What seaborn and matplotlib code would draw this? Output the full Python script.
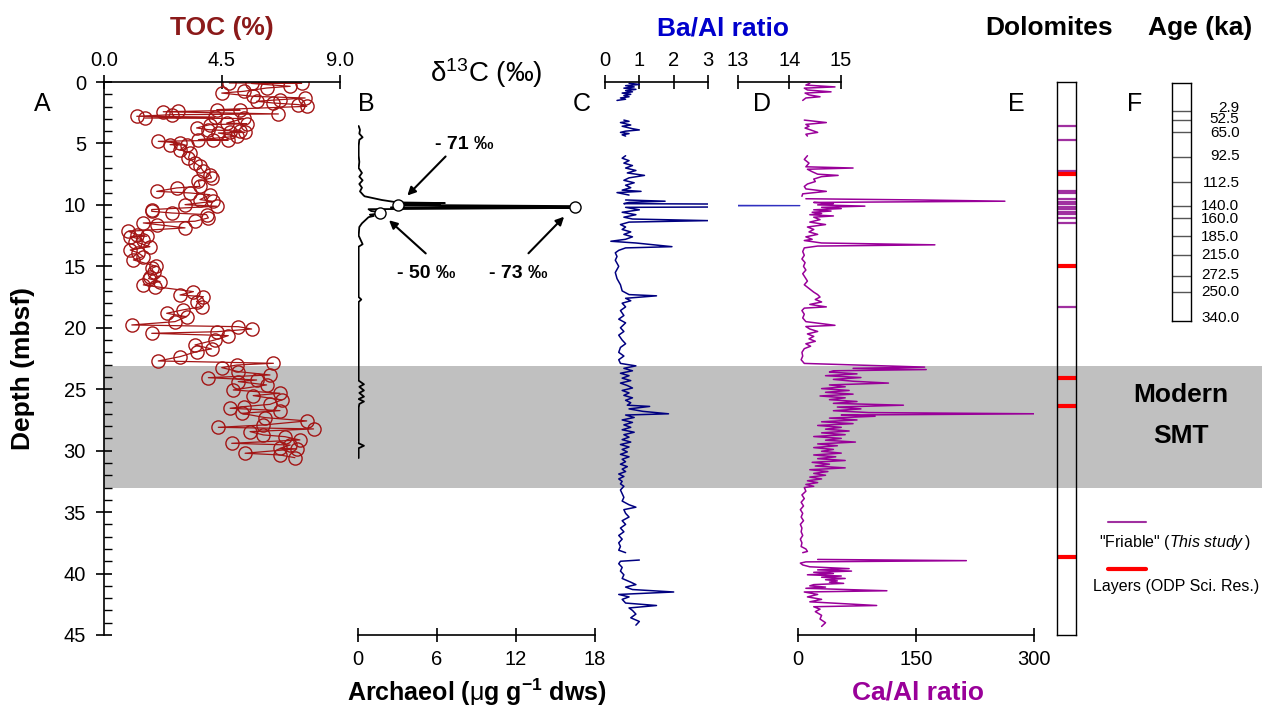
import numpy as np
import matplotlib
matplotlib.use('Agg')
import matplotlib.pyplot as plt
import pandas as pd
import seaborn as sns
from matplotlib.lines import Line2D

# ---------------- data ----------------
toc_depth = [0.08, 0.10, 0.12, 0.35, 0.49, 0.76, 0.90, 1.17, 1.30, 1.44, 1.57, 1.71, 1.84, 1.98,
             2.25, 2.30, 2.39, 2.42, 2.60, 2.66, 2.79, 2.85, 2.93, 2.97, 3.34, 3.40, 3.47, 3.74,
             3.88, 4.01, 4.05, 4.10, 4.15, 4.42, 4.69, 4.72, 4.75, 4.83, 4.96, 5.10, 5.14, 5.51,
             5.78, 6.18, 6.59, 6.86, 7.27, 7.54, 7.81, 8.08, 8.49, 8.62, 8.90, 9.03, 9.17, 9.57,
             9.71, 9.98, 10.11, 10.38, 10.52, 10.66, 10.79, 11.06, 11.33, 11.47, 11.60, 11.87,
             12.15, 12.42, 12.55, 12.58, 12.86, 13.00, 13.40, 13.67, 13.90, 14.20, 14.48, 15.00,
             15.16, 15.50, 15.84, 16.00, 16.24, 16.51, 16.65, 17.06, 17.33, 17.47, 17.87, 18.28,
             18.55, 18.82, 19.10, 19.50, 19.77, 19.91, 20.10, 20.32, 20.45, 20.64, 20.99, 21.40,
             21.72, 21.94, 22.35, 22.70, 22.89, 23.03, 23.24, 23.57, 23.84, 24.06, 24.25, 24.38,
             24.65, 25.06, 25.33, 25.52, 25.87, 26.23, 26.42, 26.55, 26.74, 26.96, 27.31, 27.58,
             27.91, 28.10, 28.23, 28.45, 28.72, 28.86, 29.13, 29.40, 29.54, 29.81, 29.85, 30.21,
             30.35, 30.57]
toc_pct = [4.78, 7.54, 5.63, 7.10, 6.20, 5.32, 4.49, 5.70, 7.67, 6.71, 5.82, 6.46, 7.41, 7.73,
           4.30, 5.19, 2.83, 2.26, 6.65, 2.58, 1.25, 4.23, 1.56, 5.32, 4.68, 5.44, 4.04, 3.53,
           3.98, 5.19, 4.81, 5.38, 4.36, 5.06, 3.60, 4.74, 4.17, 2.07, 2.90, 2.52, 3.15, 2.90,
           3.28, 3.22, 3.47, 3.66, 3.79, 4.04, 4.10, 3.60, 3.66, 2.77, 2.01, 3.28, 4.04, 3.66,
           4.17, 3.09, 4.30, 1.82, 1.82, 2.58, 3.91, 3.98, 3.47, 1.50, 2.01, 3.09,
           0.93, 1.25, 1.63, 1.00, 1.50, 1.20, 1.75, 1.00, 1.30, 1.50, 1.12, 2.00,
           1.82, 1.90, 1.75, 1.70, 2.14, 1.50, 1.95, 3.41, 2.90, 3.79, 3.53, 3.72,
           3.00, 2.39, 3.15, 2.71, 1.06, 5.12, 5.63, 4.30, 1.82, 4.74, 4.23, 3.47,
           4.10, 3.53, 2.90, 2.07, 6.46, 5.06, 4.49, 5.12, 6.33, 3.98, 5.82, 5.12,
           6.20, 4.93, 6.71, 5.69, 6.78, 6.33, 5.32, 4.81, 6.71, 5.25, 6.14, 7.73,
           6.08, 4.36, 7.99, 5.57, 6.08, 6.90, 7.47, 4.87, 7.10, 6.71, 7.35, 5.38,
           6.71, 7.28]

arch_depth = [3.58, 3.9, 4.2, 4.5, 4.7, 5.2, 6.0, 6.5, 7.0, 7.4, 7.7, 8.0, 8.3, 8.6, 8.9, 9.2,
              9.3, 9.6, 9.8, 9.85, 9.9, 9.95, 10.0, 10.1, 10.2, 10.25, 10.35, 10.5, 10.6, 10.7,
              10.8, 10.9, 11.0, 11.2, 11.5, 11.8, 12.5, 13.2, 13.4, 15.0, 17.5, 17.7, 17.9, 20.0,
              23.0, 24.3, 24.6, 24.8, 25.1, 25.3, 25.6, 25.8, 26.0, 26.2, 26.5, 29.4, 29.6, 29.8,
              30.6]
arch_val = [0.05, 0.15, 0.1, 0.35, 0.1, 0.05, 0.05, 0.1, 0.05, 0.3, 0.1, 0.35, 0.1, 0.3, 0.15, 0.4,
            0.5, 1.8, 3.0, 6.6, 3.2, 6.2, 3.0, 16.5, 2.5, 16.3, 0.8, 1.0, 1.8, 1.6,
            0.9, 1.2, 0.8, 0.6, 0.3, 0.1, 0.05, 0.35, 0.05, 0.05, 0.05, 0.25, 0.05, 0.05,
            0.05, 0.05, 0.45, 0.1, 0.45, 0.1, 0.45, 0.05, 0.45, 0.1, 0.05, 0.05, 0.45, 0.05,
            0.05]
c13_arch = [3.0, 1.7, 16.5]
c13_depth = [10.0, 10.7, 10.15]
c13_labels = ['- 71 ‰', '- 50 ‰', '- 73 ‰']

nan = np.nan
baal_depth = [0.1, 0.2, 0.3, 0.4, 0.5, 0.6, 0.7, 0.8, 0.9, 1.0, 1.1, 1.2, 1.3, 1.4, 1.5, nan,
              3.1, 3.2, 3.3, 3.4, 3.5, 3.6, 3.7, 3.8, 3.9, 4.0, 4.1, 4.2, 4.3, 4.4, nan,
              6.0, 6.2, 6.4, 6.6, 6.8, 7.0, 7.2, 7.4, 7.6, 7.8, 8.0, 8.2, 8.4, 8.6, 8.8, 8.9, 9.0, 9.2, nan,
              9.6, 9.7, 9.8, 9.9, 10.06, 10.2, 10.4, 10.6, 10.8, 11.0, 11.15, 11.28, 11.4, 11.6, 11.8,
              12.0, 12.2, 12.4, 12.6, 12.8, 12.96, 13.1, 13.4, 13.5, 13.7, 13.9, 14.2, 14.5, 15.0,
              15.5, 16.0, 16.5, 17.0, 17.3, 17.4, 17.6, 17.8, 18.0, 18.3, 18.6, 19.0, 19.3, 19.6,
              20.0, 20.3, 20.6, 21.0, 21.3, 21.6, 22.0, 22.3, 22.6, 22.9, 23.1, 23.3, 23.5, 23.7,
              23.9, 24.1, 24.3, 24.5, 24.7, 24.9, 25.1, 25.3, 25.5, 25.7, 25.9, 26.1, 26.3, 26.4,
              26.6, 26.8, 27.0, 27.1, 27.3, 27.5, 27.7, 27.9, 28.1, 28.3, 28.5, 28.7, 28.9, 29.1,
              29.3, 29.5, 29.7, 29.9, 30.1, 30.3, 30.5, 30.7, 30.9, 31.1, 31.3, 31.5, 31.7, 31.9,
              32.1, 32.3, 32.5, 32.7, 32.9, 33.2, 33.5, 33.8, 34.1, 34.4, 34.6, 34.8, 35.1, 35.4,
              35.7, 36.0, 36.3, 36.6, 36.9, 37.2, 37.5, 37.8, 38.1, 38.3, nan,
              38.9, 39.0, 39.2, 39.5, 39.8, 40.1, 40.4, 40.7, 40.9, 41.1, 41.3, 41.5, 41.7, 41.9,
              42.1, 42.4, 42.6, 42.8, 43.0, 43.3, 43.6, 43.9, 44.2]
baal_val = [0.7, 1.0, 0.6, 0.85, 0.55, 0.9, 0.6, 0.8, 0.5, 0.75, 0.55, 0.7, 0.45, 0.6, 0.35, nan,
            0.55, 0.7, 0.45, 0.6, 0.75, 0.5, 0.65, 0.8, 1.0, 0.6, 0.45, 0.7, 0.5, 0.6, nan,
            0.6, 0.5, 0.7, 0.55, 0.8, 0.6, 0.9, 0.65, 1.15, 0.7, 0.55, 0.85, 0.6, 0.75, 0.5, 1.05, 0.35, 0.7, nan,
            0.6, 1.75, 0.7, 0.55, 14.2, 0.6, 1.0, 0.5, 0.9, 0.55, 0.8, 3.0, 0.7, 0.45, 0.6,
            0.5, 0.75, 0.55, 0.8, 0.6, 0.17, 0.9, 1.95, 0.6, 0.4, 0.3, 0.35, 0.3, 0.4,
            0.3, 0.35, 0.45, 0.5, 0.7, 1.5, 0.6, 0.75, 0.5, 0.6, 0.45, 0.55, 0.4, 0.6,
            0.45, 0.55, 0.4, 0.5, 0.6, 0.45, 0.4, 0.55, 0.4, 0.45, 0.9, 0.55, 0.8, 0.45,
            0.7, 0.5, 0.75, 0.45, 0.65, 0.8, 0.5, 0.7, 0.55, 0.8, 0.6, 0.75, 0.65, 1.3,
            0.7, 1.1, 1.85, 0.6, 0.85, 0.5, 0.8, 0.55, 0.75, 0.5, 0.85, 0.55, 0.7, 0.5,
            0.75, 0.45, 0.7, 0.5, 0.65, 0.45, 0.7, 0.5, 0.6, 0.45, 0.65, 0.5, 0.6, 0.4,
            0.55, 0.4, 0.5, 0.45, 0.55, 0.45, 0.5, 0.55, 0.5, 0.7, 0.9, 0.55, 0.6, 0.7,
            0.5, 0.6, 0.45, 0.55, 0.4, 0.5, 0.4, 0.45, 0.4, 0.6, nan,
            1.0, 0.45, 0.4, 0.5, 0.45, 0.55, 0.5, 0.75, 0.9, 0.6, 0.8, 2.0, 0.4, 0.7,
            0.5, 0.6, 1.5, 0.7, 0.8, 0.9, 0.75, 1.0, 0.9]

caal_depth = [0.1, 0.25, 0.4, 0.5, 0.65, 0.8, 0.9, 1.05, 1.2, 1.3, 1.5, nan,
              3.1, 3.3, 3.45, 3.6, 3.75, 3.9, 4.1, 4.25, 4.4, nan,
              6.0, 6.3, 6.6, 6.9, 7.0, 7.1, 7.3, 7.5, 7.6, 7.7, 7.9, 8.1, 8.3, 8.5, 8.7, 8.9, 9.1, 9.3, nan,
              9.5, 9.6, 9.7, 9.8, 9.9, 10.0, 10.1, 10.2, 10.3, 10.4, 10.5, 10.6, 10.7, 10.8, 10.9,
              11.0, 11.2, 11.4, 11.6, 11.8, 12.0, 12.2, 12.4, 12.6, 12.8, 12.9, 13.1, 13.25, 13.35,
              13.5, 13.8, 14.1, 14.4, 14.7, 15.0, 15.3, 15.6, 15.9, 16.2, 16.5, 16.8, 17.1, 17.3,
              17.5, 17.7, 17.9, 18.1, 18.3, 18.4, 18.6, 18.9, 19.2, 19.5, 19.8, 19.9, 20.1, 20.3,
              20.5, 20.7, 20.9, 21.1, 21.3, 21.5, 21.7, 22.0, 22.3, 22.6, 22.9, 23.0, 23.1, 23.2,
              23.3, 23.4, 23.5, 23.6, 23.75, 23.9, 24.05, 24.2, 24.35, 24.5, 24.65, 24.8, 24.95,
              25.1, 25.25, 25.4, 25.55, 25.7, 25.85, 26.0, 26.15, 26.3, 26.45, 26.6, 26.75, 26.9,
              27.0, 27.1, 27.2, 27.35, 27.5, 27.65, 27.8, 27.95, 28.1, 28.25, 28.4, 28.55, 28.7,
              28.85, 29.0, 29.15, 29.3, 29.45, 29.6, 29.75, 29.9, 30.05, 30.2, 30.35, 30.5, 30.65,
              30.8, 30.95, 31.1, 31.25, 31.4, 31.55, 31.7, 31.85, 32.0, 32.15, 32.3, 32.45, 32.6,
              32.75, 32.9, 33.0, 33.3, 33.6, 33.9, 34.2, 34.5, 34.8, 35.1, 35.4, 35.7, 36.0, 36.3,
              36.6, 36.9, 37.2, 37.5, 37.8, 38.0, 38.2, 38.3, nan,
              38.85, 38.95, 39.05, 39.15, 39.3, 39.45, 39.6, 39.7, 39.8, 39.9, 40.0, 40.1, 40.2,
              40.3, 40.4, 40.5, 40.6, 40.7, 40.8, 40.9, 41.0, 41.1, 41.2, 41.4, 41.5, 41.7, 41.9,
              42.1, 42.3, 42.6, 42.7, 42.9, 43.1, 43.4, 43.7, 44.0, 44.3]
caal_val = [15, 10, 47, 8, 12, 42, 9, 14, 28, 10, 6, nan,
            8, 36, 10, 14, 9, 16, 25, 10, 12, nan,
            12, 8, 14, 10, 70, 12, 18, 25, 51, 30, 20, 22, 12, 8, 10, 36, 6, 5, nan,
            10, 155, 263, 20, 45, 25, 85, 30, 55, 20, 42, 18, 30, 15, 45,
            20, 28, 15, 35, 12, 20, 14, 25, 10, 18, 8, 30, 174, 25,
            8, 6, 8, 5, 9, 7, 10, 6, 9, 12, 8, 14, 20, 25,
            28, 22, 30, 15, 36, 8, 5, 8, 6, 10, 47, 10, 15, 25,
            12, 20, 14, 22, 10, 16, 8, 5, 6, 4, 8, 60, 110, 161,
            70, 163, 45, 40, 75, 35, 80, 45, 70, 115, 40, 60, 30,
            65, 35, 70, 28, 60, 40, 75, 45, 134, 50, 80, 45, 90,
            306, 55, 98, 40, 75, 30, 70, 25, 55, 35, 65, 30, 60,
            20, 55, 35, 73, 25, 50, 20, 45, 30, 55, 20, 48, 25,
            60, 18, 40, 22, 60, 15, 38, 20, 35, 15, 30, 12, 25,
            10, 20, 8, 10, 5, 8, 4, 7, 3, 6, 4, 7, 3, 5,
            4, 6, 3, 5, 4, 10, 12, 6, nan,
            25, 214, 10, 3, 6, 15, 65, 25, 68, 20, 45, 12, 55,
            30, 60, 35, 50, 40, 58, 20, 15, 35, 10, 113, 8, 25, 12,
            30, 15, 100, 20, 28, 22, 30, 28, 35, 30]

friable_depth = [3.58, 4.72, 7.21, 8.84, 9.0, 9.55, 9.74, 9.93, 10.14, 10.36, 10.55, 10.74,
                 11.09, 11.5, 18.28]
layer_depth = [7.49, 14.94, 24.06, 26.34, 38.62]

age_line_depth = [2.28, 3.04, 4.04, 6.02, 8.06, 10.06, 11.04, 12.53, 14.02, 15.79, 17.06]
age_label_depth = [2.01, 2.95, 4.12, 5.94, 8.19, 10.09, 11.09, 12.59, 14.08, 15.7, 17.06, 19.23]
age_labels = ['2.9', '52.5', '65.0', '92.5', '112.5', '140.0', '160.0', '185.0', '215.0',
              '272.5', '250.0', '340.0']
age_bottom = 19.45

smt_top, smt_bottom = 23.1, 33.0

# ---------------- style ----------------
sns.set_theme(style='white')
plt.rcParams['font.family'] = ['Liberation Sans', 'DejaVu Sans']
plt.rcParams['mathtext.fontset'] = 'custom'
plt.rcParams['mathtext.rm'] = 'Liberation Sans'
plt.rcParams['mathtext.it'] = 'Liberation Sans:italic'
plt.rcParams['mathtext.bf'] = 'Liberation Sans:bold'
for key in ['text.color', 'axes.labelcolor', 'xtick.color', 'ytick.color', 'axes.edgecolor']:
    plt.rcParams[key] = 'black'

toc_color = '#A31515'
toc_title = '#8B1A1A'
ba_color = '#000080'
ba_title = '#0000CC'
ca_color = '#990099'
friable_color = '#A030A0'
layer_color = '#FF0000'

W, H = 1263, 711
fig = plt.figure(figsize=(W / 100, H / 100), dpi=100)
fig.patch.set_facecolor('white')


def px_axes(x0, x1, y0=82, y1=635):
    ax = fig.add_axes([x0 / W, 1 - y1 / H, (x1 - x0) / W, (y1 - y0) / H])
    ax.patch.set_alpha(0)
    for s in ax.spines.values():
        s.set_visible(False)
        s.set_linewidth(1.2)
        s.set_color('black')
    return ax


def ftext(x, y, s, **kw):
    kw.setdefault('ha', 'center')
    kw.setdefault('va', 'center')
    kw.setdefault('color', 'black')
    fig.text(x / W, 1 - y / H, s, **kw)


def seg_frame(depth, vals):
    d = np.asarray(depth, float)
    v = np.asarray(vals, float)
    df = pd.DataFrame({'depth': d, 'val': v, 'seg': np.cumsum(np.isnan(d))})
    return df.dropna()


tick_kw = dict(direction='inout', length=10, width=1.2, labelsize=14.5, colors='black')

# gray SMT band
ax_bg = px_axes(104, 1262)
ax_bg.set_ylim(45, 0)
ax_bg.axhspan(smt_top, smt_bottom, color='#C0C0C0', lw=0)
ax_bg.set_xticks([])
ax_bg.set_yticks([])

# ---- A: TOC ----
ax_a = px_axes(104, 340)
sns.lineplot(x=toc_pct, y=toc_depth, sort=False, estimator=None, ax=ax_a, color=toc_color,
             lw=0.9, marker='o', ms=9.5, mfc='none', mec=toc_color, mew=1.0)
ax_a.set_xlim(0, 9)
ax_a.set_ylim(45, 0)
ax_a.spines['left'].set_visible(True)
ax_a.spines['top'].set_visible(True)
ax_a.xaxis.tick_top()
ax_a.set_xticks([0, 4.5, 9])
ax_a.set_xticklabels(['0.0', '4.5', '9.0'])
ax_a.set_yticks(range(0, 46, 5))
ax_a.set_yticks(range(0, 46, 1), minor=True)
ax_a.tick_params(axis='x', which='major', pad=4, **tick_kw)
ax_a.tick_params(axis='y', which='major', left=True, pad=7, length=12, direction='inout',
                 width=1.2, labelsize=14.5, colors='black')
ax_a.tick_params(axis='y', which='minor', left=True, length=6, direction='in', width=1.0,
                 colors='black')
ax_a.set_xlabel('')
ax_a.set_ylabel('')

# ---- B: archaeol ----
ax_b = px_axes(358, 595)
sns.lineplot(x=arch_val, y=arch_depth, sort=False, estimator=None, ax=ax_b, color='black', lw=1.3)
ax_b.plot(c13_arch, c13_depth, 'o', ms=8, mfc='white', mec='black', mew=1.0, zorder=5)
ax_b.set_xlim(0, 18)
ax_b.set_ylim(45, 0)
ax_b.spines['bottom'].set_visible(True)
ax_b.set_xticks([0, 6, 12, 18])
ax_b.set_yticks([])
ax_b.tick_params(axis='x', bottom=True, pad=6, **tick_kw)
text_pos = [(8.1, 5.1), (5.2, 15.6), (12.2, 15.6)]
arrow_tail = [(6.8, 5.9), (5.3, 14.1), (12.8, 14.1)]
arrow_tip = [(3.6, 9.4), (2.2, 11.1), (15.8, 10.8)]
for lab, tp, tl, tip in zip(c13_labels, text_pos, arrow_tail, arrow_tip):
    ax_b.text(tp[0], tp[1], lab, ha='center', va='center', fontsize=14, fontweight='bold',
              color='black')
    ax_b.annotate('', xy=tip, xytext=tl,
                  arrowprops=dict(arrowstyle='-|>', color='black', lw=1.5, mutation_scale=12))
ax_b.set_xlabel('')
ax_b.set_ylabel('')

# ---- C: Ba/Al ----
baal = seg_frame(baal_depth, baal_val)
ax_c = px_axes(605, 708)
sns.lineplot(data=baal, x='val', y='depth', units='seg', estimator=None, sort=False,
             ax=ax_c, color=ba_color, lw=1.1)
ax_c.set_xlim(0, 3)
ax_c.set_ylim(45, 0)
ax_c.spines['top'].set_visible(True)
ax_c.xaxis.tick_top()
ax_c.set_xticks([0, 1, 2, 3])
ax_c.set_yticks([])
ax_c.tick_params(axis='x', pad=4, **tick_kw)
ax_c.set_xlabel('')
ax_c.set_ylabel('')

# broken Ba/Al scale (13-15)
ax_ct = px_axes(738, 841)
sns.lineplot(data=baal, x='val', y='depth', units='seg', estimator=None, sort=False,
             ax=ax_ct, color='#3030C0', lw=1.0)
ax_ct.set_xlim(13, 15)
ax_ct.set_ylim(45, 0)
ax_ct.spines['top'].set_visible(True)
ax_ct.xaxis.tick_top()
ax_ct.set_xticks([13, 14, 15])
ax_ct.set_yticks([])
ax_ct.tick_params(axis='x', pad=4, **tick_kw)
ax_ct.set_xlabel('')
ax_ct.set_ylabel('')

# ---- D: Ca/Al ----
caal = seg_frame(caal_depth, caal_val)
ax_d = px_axes(798, 1034)
sns.lineplot(data=caal, x='val', y='depth', units='seg', estimator=None, sort=False,
             ax=ax_d, color=ca_color, lw=1.1)
ax_d.set_xlim(0, 300)
ax_d.set_ylim(45, 0)
ax_d.spines['bottom'].set_visible(True)
ax_d.set_xticks([0, 150, 300])
ax_d.set_yticks([])
ax_d.tick_params(axis='x', bottom=True, pad=6, **tick_kw)
ax_d.set_xlabel('')
ax_d.set_ylabel('')

# ---- E: dolomites column ----
ax_e = px_axes(1057, 1076)
for s in ax_e.spines.values():
    s.set_visible(True)
    s.set_linewidth(1.0)
ax_e.set_xlim(0, 1)
ax_e.set_ylim(45, 0)
ax_e.hlines(friable_depth, 0, 1, color=friable_color, lw=1.6)
ax_e.hlines(layer_depth, 0, 1, color=layer_color, lw=3)
ax_e.set_xticks([])
ax_e.set_yticks([])

# ---- F: age column ----
ax_f = px_axes(1172, 1191, 83, 321)
for s in ax_f.spines.values():
    s.set_visible(True)
    s.set_linewidth(1.0)
ax_f.set_xlim(0, 1)
ax_f.set_ylim(age_bottom, 0)
ax_f.hlines(age_line_depth, 0, 1, color='#555555', lw=1.0)
ax_f.set_xticks([])
ax_f.set_yticks([])
for d, lab in zip(age_label_depth, age_labels):
    ax_f.text(3.55, d, lab, transform=ax_f.get_yaxis_transform(), ha='right', va='center',
              fontsize=11, color='black')

# ---- text ----
ftext(222, 28, 'TOC (%)', color=toc_title, fontsize=19, fontweight='bold')
ftext(723, 28, 'Ba/Al ratio', color=ba_title, fontsize=19, fontweight='bold')
ftext(1049, 28, 'Dolomites', fontsize=19, fontweight='bold')
ftext(1200, 28, 'Age (ka)', fontsize=19, fontweight='bold')
ftext(486, 73, r'$\mathrm{\delta}^{13}$C (‰)', fontsize=20)
ftext(477, 692, r'Archaeol ($\mathrm{\mu}$g g$^{\mathbf{-1}}$ dws)', fontsize=18, fontweight='bold')
ftext(918, 692, 'Ca/Al ratio', color=ca_color, fontsize=19, fontweight='bold')
ftext(23, 368, 'Depth (mbsf)', rotation=90, fontsize=19, fontweight='bold')
for lab, x in zip(['A', 'B', 'C', 'D', 'E', 'F'], [42, 366, 582, 762, 1016, 1135]):
    ftext(x, 104, lab, fontsize=18)
ftext(1181, 395, 'Modern', fontsize=19, fontweight='bold')
ftext(1181, 436, 'SMT', fontsize=19, fontweight='bold')

# legend for column E
fig.add_artist(Line2D([1108 / W, 1146 / W], [1 - 522 / H] * 2, color=friable_color, lw=1.5))
fig.add_artist(Line2D([1108 / W, 1146 / W], [1 - 569 / H] * 2, color=layer_color, lw=3))
ftext(1175, 542, '"Friable" ($\\it{This\\ study}\\,$)', fontsize=11.5)
ftext(1176, 587, 'Layers (ODP Sci. Res.)', fontsize=11.5)

fig.savefig('out.png', dpi=100)
